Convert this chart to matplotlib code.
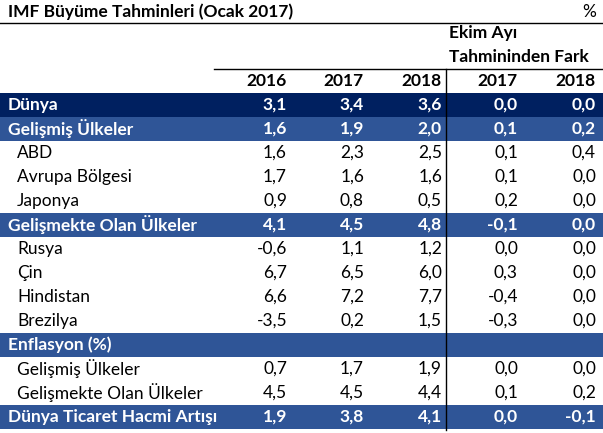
import numpy as np
import matplotlib.pyplot as plt

plt.rcParams['font.family'] = ['Lato', 'DejaVu Sans']

# table content
title = "IMF Büyüme Tahminleri (Ocak 2017)"
unit = "%"
group_header = ["Ekim Ayı", "Tahmininden Fark"]
col_years = ["2016", "2017", "2018", "2017", "2018"]

labels = ["Dünya", "Gelişmiş Ülkeler", "ABD", "Avrupa Bölgesi", "Japonya",
          "Gelişmekte Olan Ülkeler", "Rusya", "Çin", "Hindistan", "Brezilya",
          "Enflasyon (%)", "Gelişmiş Ülkeler", "Gelişmekte Olan Ülkeler",
          "Dünya Ticaret Hacmi Artışı"]
kinds = ["world", "group", "sub", "sub", "sub",
         "group", "sub", "sub", "sub", "sub",
         "group", "sub", "sub", "group"]

nan = np.nan
v2016 = [3.1, 1.6, 1.6, 1.7, 0.9, 4.1, -0.6, 6.7, 6.6, -3.5, nan, 0.7, 4.5, 1.9]
v2017 = [3.4, 1.9, 2.3, 1.6, 0.8, 4.5, 1.1, 6.5, 7.2, 0.2, nan, 1.7, 4.5, 3.8]
v2018 = [3.6, 2.0, 2.5, 1.6, 0.5, 4.8, 1.2, 6.0, 7.7, 1.5, nan, 1.9, 4.4, 4.1]
d2017 = [0.0, 0.1, 0.1, 0.1, 0.2, -0.1, 0.0, 0.3, -0.4, -0.3, nan, 0.0, 0.1, 0.0]
d2018 = [0.0, 0.2, 0.4, 0.0, 0.0, 0.0, 0.0, 0.0, 0.0, 0.0, nan, 0.0, 0.2, -0.1]
columns = [v2016, v2017, v2018, d2017, d2018]

# layout in pixels
W, H = 603, 433
col_right = [287, 364, 442, 518, 596]
row_top0, row_h = 93, 24
fill = {"world": "#002060", "group": "#2F5597", "sub": "white"}
fs = 12.5

fig = plt.figure(figsize=(W / 100, H / 100), dpi=100)
ax = fig.add_axes([0, 0, 1, 1])
ax.set_xlim(0, W)
ax.set_ylim(H, 0)
ax.axis("off")

ax.text(8, 12, title, fontsize=fs, fontweight="bold", va="center", ha="left")
ax.text(596, 12, unit, fontsize=fs, va="center", ha="right")
ax.plot([0, W], [22.5, 22.5], color="black", lw=1)
ax.text(449, 33, group_header[0], fontsize=fs, fontweight="bold", va="center")
ax.text(449, 57, group_header[1], fontsize=fs, fontweight="bold", va="center")
ax.plot([214, W], [68.5, 68.5], color="black", lw=1)
for x, yr in zip(col_right, col_years):
    ax.text(x, 81, yr, fontsize=fs, fontweight="bold", va="center", ha="right")

for i, (lab, kind) in enumerate(zip(labels, kinds)):
    top = row_top0 + i * row_h
    yc = top + row_h / 2
    if kind != "sub":
        ax.add_patch(plt.Rectangle((0, top), W, row_h, color=fill[kind], lw=0))
    color = "white" if kind != "sub" else "black"
    weight = "bold" if kind != "sub" else "normal"
    lx = 8 if kind != "sub" else 17
    ax.text(lx, yc, lab, fontsize=fs, fontweight=weight, color=color,
            va="center", ha="left")
    for x, col in zip(col_right, columns):
        v = col[i]
        if np.isnan(v):
            continue
        s = f"{v:.1f}".replace(".", ",")
        ax.text(x, yc, s, fontsize=fs, fontweight=weight, color=color,
                va="center", ha="right")

ax.plot([446, 446], [68.5, row_top0 + len(labels) * row_h + 1], color="black", lw=1)

fig.savefig("out.png", dpi=100)
